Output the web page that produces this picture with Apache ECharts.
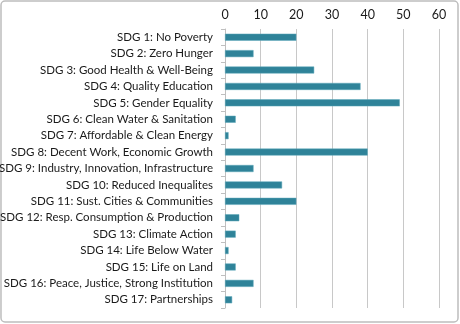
<!DOCTYPE html>
<html><head><meta charset="utf-8">
<script src="https://cdn.jsdelivr.net/npm/echarts@6/dist/echarts.min.js"></script>
<style>html,body{margin:0;padding:0;background:#fff}#c{width:460px;height:324px}</style>
</head><body><div id="c"></div>
<script>
const categories = [
  "SDG 1: No Poverty",
  "SDG 2: Zero Hunger",
  "SDG 3: Good Health & Well-Being",
  "SDG 4: Quality Education",
  "SDG 5: Gender Equality",
  "SDG 6: Clean Water & Sanitation",
  "SDG 7: Affordable & Clean Energy",
  "SDG 8: Decent Work, Economic Growth",
  "SDG 9: Industry, Innovation, Infrastructure",
  "SDG 10: Reduced Inequalites",
  "SDG 11: Sust. Cities & Communities",
  "SDG 12: Resp. Consumption & Production",
  "SDG 13: Climate Action",
  "SDG 14: Life Below Water",
  "SDG 15: Life on Land",
  "SDG 16: Peace, Justice, Strong Institution",
  "SDG 17: Partnerships"
];
const values = [20, 8, 25, 38, 49, 3, 1, 40, 8, 16, 20, 4, 3, 1, 3, 8, 2];
const xTicks = [0, 10, 20, 30, 40, 50, 60];

const chart = echarts.init(document.getElementById('c'), null, {renderer: 'canvas'});
const font = 'Lato, "Open Sans", sans-serif';
chart.setOption({
  animation: false,
  textStyle: {fontFamily: font},
  graphic: [{
    type: 'rect', shape: {x: 1, y: 1, width: 457, height: 321, r: 4},
    style: {fill: 'none', stroke: '#bdbdbd', lineWidth: 1.5}, z: -1
  }],
  grid: {left: 225, right: 21, top: 29, bottom: 16, containLabel: false, outerBoundsMode: 'none'},
  xAxis: {
    type: 'value', position: 'top', min: xTicks[0], max: xTicks[xTicks.length - 1], interval: 10,
    axisLine: {show: false}, axisTick: {show: false},
    axisLabel: {color: '#1a1a1a', fontSize: 12.5, fontFamily: font, margin: 8},
    splitLine: {show: true, lineStyle: {color: '#c8c8c8', width: 1}}
  },
  yAxis: {
    type: 'category', data: categories, inverse: true,
    axisLine: {show: true, lineStyle: {color: '#bfbfbf', width: 1}},
    axisTick: {show: true, length: 4, lineStyle: {color: '#bfbfbf'}},
    axisLabel: {color: '#1a1a1a', fontSize: 11.5, fontFamily: font, margin: 12}
  },
  series: [{
    type: 'bar', data: values, barWidth: 7,
    itemStyle: {color: '#2F8399', borderColor: '#5fa8bb', borderWidth: 0.5}
  }]
});
</script></body></html>
